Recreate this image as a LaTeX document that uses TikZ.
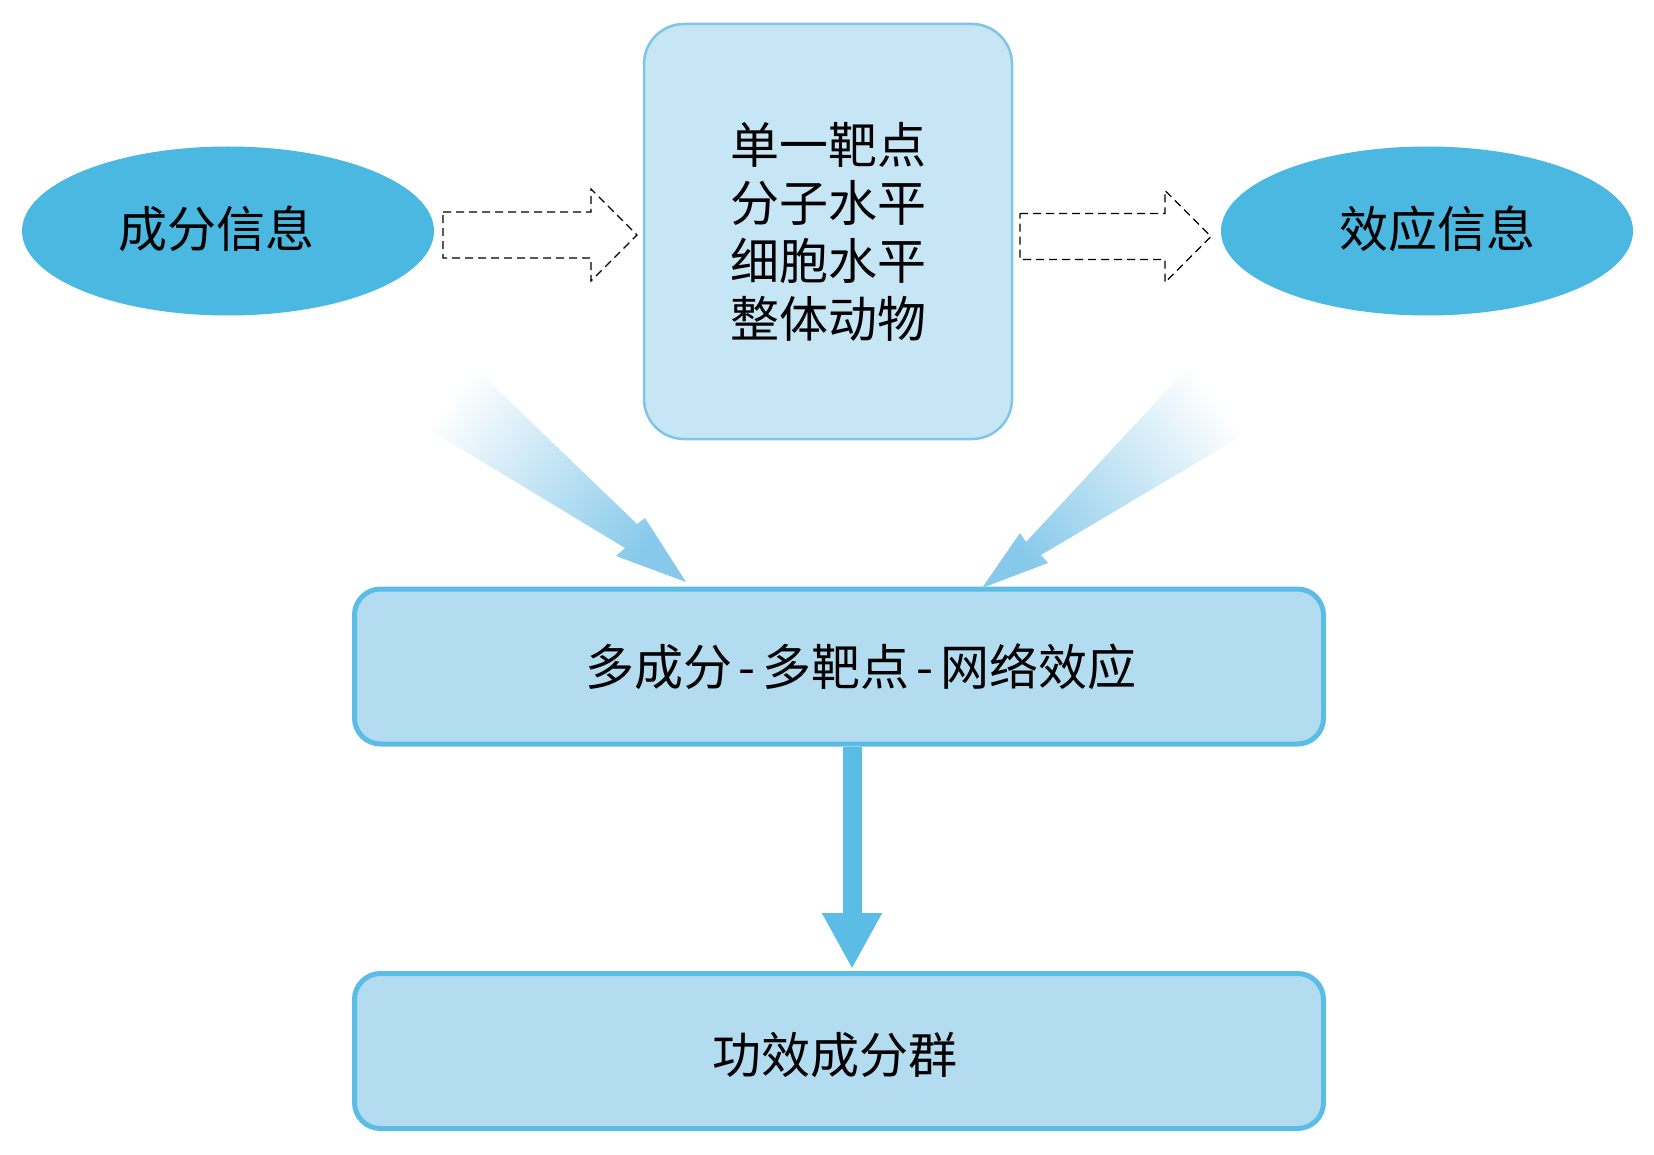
\documentclass[tikz,border=0pt]{standalone}
\usepackage{fontspec}
\setmainfont{Noto Sans CJK SC}
\usetikzlibrary{arrows.meta,shapes.geometric}
\definecolor{ellblue}{HTML}{4BB8E1}
\definecolor{topfill}{HTML}{C6E5F5}
\definecolor{topdraw}{HTML}{80C5E6}
\definecolor{boxfill}{HTML}{B3DCF0}
\definecolor{boxdraw}{HTML}{5BBDE5}
\definecolor{shadetip}{HTML}{86C9EA}
\definecolor{shademid}{HTML}{DDEFF9}
\tikzset{
  bigtext/.style={font=\fontsize{49}{58}\selectfont, text=black, inner sep=0pt},
  ellbox/.style={ellipse, fill=ellblue, draw=none, inner sep=0pt, minimum width=412pt, minimum height=169pt},
  topbox/.style={rectangle, rounded corners=40pt, fill=topfill, draw=topdraw, line width=2.5pt, minimum width=368pt, minimum height=415pt, align=center},
  wbox/.style={rectangle, rounded corners=26pt, fill=boxfill, draw=boxdraw, line width=5pt, minimum width=969pt, minimum height=155pt},
  dasharrow/.style={draw=black, line width=1.2pt, dash pattern=on 8pt off 5pt},
  bigarrow/.style={draw=boxdraw, line width=19pt, -{Triangle[width=56pt,length=56pt]}}
}
\begin{document}
\begin{tikzpicture}[x=1pt,y=-1pt]
\useasboundingbox[fill=white] (0,0) rectangle (1654,1155);

% ellipses
\node[ellbox] (ell1) at (228,231) {};
\node[bigtext] (t1) at (216,229) {成分信息};
\node[ellbox] (ell2) at (1427,231) {};
\node[bigtext] (t2) at (1437,229) {效应信息};

% top box
\node[topbox, bigtext, inner sep=0pt] (top) at (828,231.5) {单一靶点\\分子水平\\细胞水平\\整体动物};

% middle and bottom boxes
\node[wbox] (mid) at (839,666.5) {};
\node[bigtext] (midt) at (861,667) {多成分\hspace{7pt}-\hspace{7pt}多靶点\hspace{7pt}-\hspace{7pt}网络效应};
\node[wbox] (bot) at (839,1051) {};
\node[bigtext] (bott) at (835,1055) {功效成分群};

% dashed arrows
\coordinate (da1) at (443,234.5);
\draw[dasharrow] (da1) ++(0,-22.5) -- ++(148,0) -- ++(0,-23) -- ++(46,46) -- ++(-46,46) -- ++(0,-23) -- ++(-148,0) -- cycle;
\coordinate (da2) at (1020,236);
\draw[dasharrow] (da2) ++(0,-22.5) -- ++(145,0) -- ++(0,-23) -- ++(46,46) -- ++(-46,46) -- ++(0,-23) -- ++(-145,0) -- cycle;

% shaded arrows
\coordinate (la) at (686,582);
\shade[top color=white, middle color=shademid, bottom color=shadetip, shading angle=52]
  (475,368) -- (637,524) -- (645,518) -- (la) -- (616,556) -- (625,548) -- (410,418) -- cycle;
\coordinate (ra) at (982,588);
\shade[top color=white, middle color=shademid, bottom color=shadetip, shading angle=-52]
  (1193,362) -- (1026,542) -- (1020,533) -- (ra) -- (1048,563) -- (1041,555) -- (1252,430) -- cycle;

% down arrow
\draw[bigarrow] ([xshift=13pt]mid.south) -- ([xshift=13pt,yshift=2pt]bot.north);
\end{tikzpicture}
\end{document}
